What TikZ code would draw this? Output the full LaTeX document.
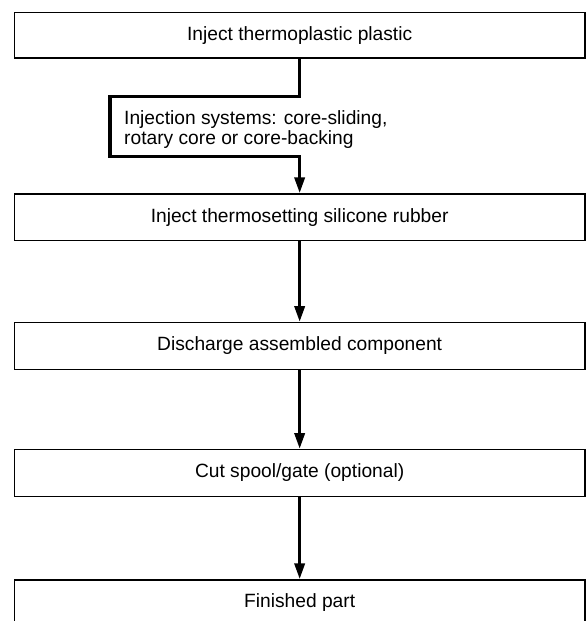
\documentclass[tikz,border=0pt]{standalone}
\usepackage{fontspec}
\setmainfont{Liberation Sans}
\usetikzlibrary{arrows.meta}
\begin{document}
\begin{tikzpicture}[x=1pt,y=-1pt,
  stepbox/.style={draw=black, line width=1.3pt, fill=white, minimum width=570.7pt,
    inner sep=0pt, font=\fontsize{19.2}{20}\selectfont},
  conn/.style={draw=black, line width=3.5pt},
  flow/.style={conn, -{Triangle[length=16pt,width=10pt]}},
  lbl/.style={inner sep=0pt, align=left, font=\fontsize{19.2}{19.5}\selectfont}]
\clip (0,0) rectangle (586,621);
\fill[white] (0,0) rectangle (586,621);
\node[stepbox, minimum height=45.3pt] (b1) at (299.65,35.35) {Inject thermoplastic plastic};
\node[stepbox, minimum height=46.3pt] (b2) at (299.65,217.15) {Inject thermosetting silicone rubber};
\node[stepbox, minimum height=46.6pt] (b3) at (299.65,346) {Discharge assembled component};
\node[stepbox, minimum height=46.6pt] (b4) at (299.65,473) {Cut spool/gate (optional)};
\node[stepbox, minimum height=46pt] (b5) at (299.65,603) {Finished part};
\coordinate (ka) at (110,96.7);
\coordinate (kb) at (110,156.7);
\draw[flow] (b1.south) |- (ka) -- (kb) -| (b2.north);
\node[lbl, anchor=west] (l1) at (124,129.5) {Injection systems: core-sliding,\\rotary core or core-backing};
\draw[flow] (b2.south) -- (b3.north);
\draw[flow] (b3.south) -- (b4.north);
\draw[flow] (b4.south) -- (b5.north);
\end{tikzpicture}
\end{document}
